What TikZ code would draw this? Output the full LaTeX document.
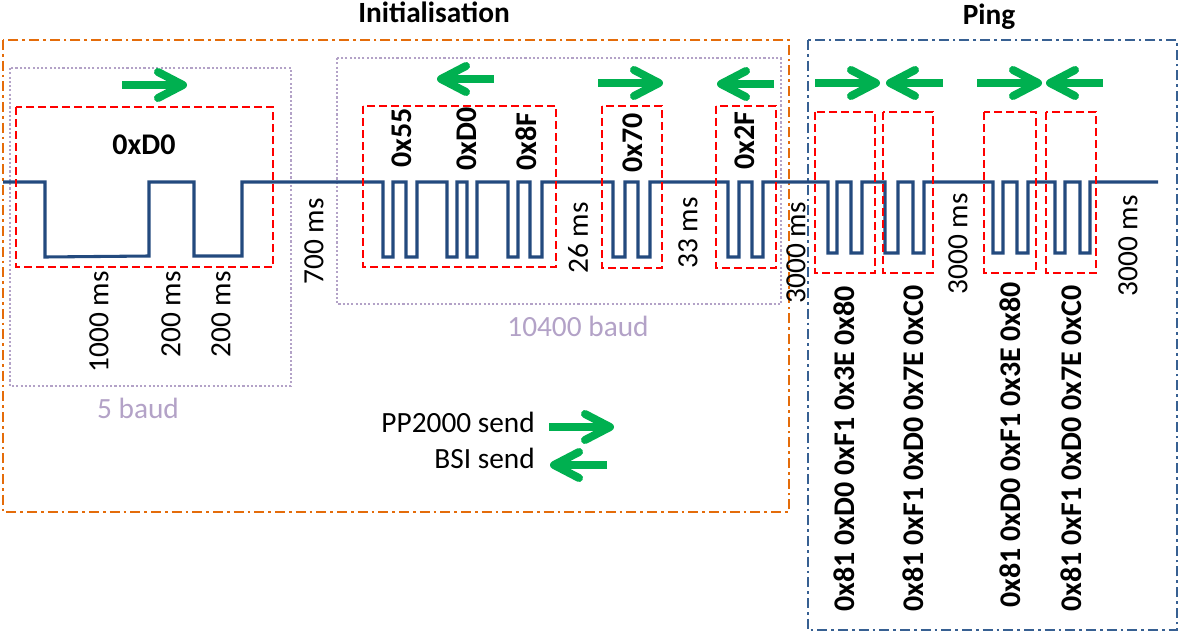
\documentclass[tikz,border=0pt]{standalone}
\usepackage{fontspec}
\setmainfont{Carlito}
\usepackage{xcolor}
\definecolor{init-orange}{RGB}{228,108,10}
\definecolor{ping-blue}{RGB}{55,96,146}
\definecolor{baud-lilac}{RGB}{179,162,199}
\definecolor{sig-blue}{RGB}{35,74,126}
\definecolor{send-green}{RGB}{0,176,80}
\usetikzlibrary{positioning}

\begin{document}
\begin{tikzpicture}[
    x=0.75pt, y=-0.75pt,
    sig line/.style={
        draw=sig-blue,
        line width=2.3pt,
        line join=miter
    },
    byte box/.style={
        draw=red,
        line width=2.1pt,
        dash pattern=on 6pt off 3pt
    },
    baud box/.style={
        draw=baud-lilac,
        line width=1.8pt,
        dash pattern=on 1.6pt off 1.6pt
    },
    init frame/.style={
        draw=init-orange,
        line width=2.2pt,
        dash pattern=on 7.5pt off 3pt on 2pt off 3pt
    },
    ping frame/.style={
        draw=ping-blue,
        line width=2.2pt,
        dash pattern=on 7.5pt off 3pt on 2pt off 3pt
    },
    frame title/.style={
        font=\fontsize{22}{26}\selectfont\bfseries,
        inner sep=0pt,
        anchor=base
    },
    byte label/.style={
        font=\fontsize{22.5}{26}\selectfont\bfseries,
        rotate=90,
        inner sep=0pt,
        anchor=west
    },
    time label/.style={
        font=\fontsize{22}{26}\selectfont,
        rotate=90,
        inner sep=0pt,
        anchor=east
    },
    baud label/.style={
        font=\fontsize{22}{26}\selectfont,
        text=baud-lilac,
        inner sep=0pt,
        anchor=base
    },
    legend label/.style={
        font=\fontsize{22}{26}\selectfont,
        inner sep=0pt,
        anchor=base east
    },
    send shaft/.style={draw=send-green, line width=6pt, line cap=butt},
    send barb/.style={draw=send-green, line width=6pt, line cap=round, line join=round},
    pics/send right/.style={code={
        \draw[send shaft] (-65,0) -- (-8,0);
        \draw[send barb] (-29,-13) -- (-4,0) -- (-29,13);
    }},
    pics/send left/.style={code={
        \draw[send shaft] (57,0) -- (8,0);
        \draw[send barb] (29,-13) -- (4,0) -- (29,13);
    }}
]

\useasboundingbox (0,0) rectangle (1182,642);

% Phase frames
\draw[init frame] (3,40) rectangle (789,512);
\draw[ping frame] (808,40) rectangle (1177,630);
\node[frame title] (tinit) at (434,23) {Initialisation};
\node[frame title] (tping) at (989,25) {Ping};

% Baud rate areas
\draw[baud box] (10,68) rectangle (291,386);
\draw[baud box] (337,58) rectangle (781,304);
\node[baud label] (baud5) at (138,418) {5 baud};
\node[baud label] (baud10k) at (578,336) {10400 baud};

% Signal on the K-line
\draw[sig line] (3,182) -- (45,182) -- (45,257) -- (149,256) -- (149,182)
    -- (194,182) -- (194,256) -- (242,256) -- (242,182)
    foreach \a/\b/\c/\d/\l in {383/393/406/417/257, 447/457/467/477/257,
        508/518/530/542/257, 613/625/638/650/257, 728/739/752/763/257,
        828/837/851/862/253, 885/898/913/924/253,
        993/1003/1017/1028/253, 1055/1065/1080/1090/253}
    { -- (\a,182) -- (\a,\l) -- (\b,\l) -- (\b,182)
      -- (\c,182) -- (\c,\l) -- (\d,\l) -- (\d,182) }
    -- (1158,182);

% Bytes
\draw[byte box] (16,107) rectangle (273,267);
\draw[byte box] (363,106) rectangle (556,267);
\draw[byte box] (602,106) rectangle (662,268);
\draw[byte box] (716,106) rectangle (776,268);
\draw[byte box] (815,112) rectangle (875,273);
\draw[byte box] (883,112) rectangle (933,273);
\draw[byte box] (984,112) rectangle (1036,273);
\draw[byte box] (1046,112) rectangle (1096,273);

\node[font=\fontsize{22.5}{26}\selectfont\bfseries, inner sep=0pt, anchor=base] (addr) at (144,154) {0xD0};
\node[byte label] (b55) at (402,168) {0x55};
\node[byte label] (kb1) at (467,171) {0xD0};
\node[byte label] (kb2) at (526,171) {0x8F};
\node[byte label] (kb2inv) at (633,173) {0x70};
\node[byte label] (addrinv) at (745,170) {0x2F};

\node[byte label] (ping1) at (844,612) {0x81 0xD0 0xF1 0x3E 0x80};
\node[byte label] (resp1) at (913,612) {0x81 0xF1 0xD0 0x7E 0xC0};
\node[byte label] (ping2) at (1010,608) {0x81 0xD0 0xF1 0x3E 0x80};
\node[byte label] (resp2) at (1071,612) {0x81 0xF1 0xD0 0x7E 0xC0};

% Timings
\node[time label] (t1) at (99,271) {1000 ms};
\node[time label] (t2) at (171,271) {200 ms};
\node[time label] (t3) at (221,271) {200 ms};
\node[time label] (t4) at (314,198) {700 ms};
\node[time label] (t5) at (578,202) {26 ms};
\node[time label] (t6) at (688,197) {33 ms};
\node[time label] (t7) at (796,202) {3000 ms};
\node[time label] (t8) at (958,193) {3000 ms};
\node[time label] (t9) at (1128,195) {3000 ms};

% Direction arrows
\pic at (187,85) {send right};
\pic at (437,79) {send left};
\pic at (663,83) {send right};
\pic at (717,84) {send left};
\pic at (880,83) {send right};
\pic at (886,83) {send left};
\pic at (1042,83) {send right};
\pic at (1046,83) {send left};

% Legend
\node[legend label] (lgpp) at (535,432) {PP2000 send};
\node[legend label] (lgbsi) at (535,468) {BSI send};
\pic at (614,427) {send right};
\pic at (550,465) {send left};

\end{tikzpicture}
\end{document}
